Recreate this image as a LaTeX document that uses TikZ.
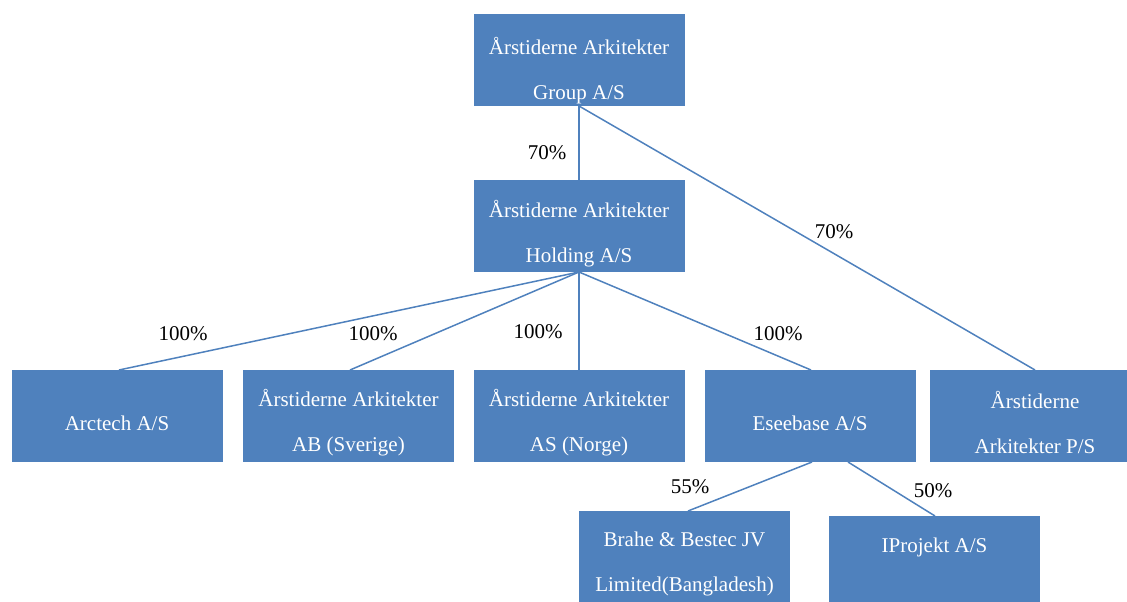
\documentclass[tikz,border=0pt]{standalone}
\usepackage{fontspec}
\setmainfont{Liberation Serif}
\definecolor{boxblue}{HTML}{4F81BD}
\begin{document}
\begin{tikzpicture}[x=1pt,y=-1pt,
  orgbox/.style={fill=boxblue,draw=none,minimum width=211pt,minimum height=92pt,anchor=north west,inner sep=0pt},
  boxtext/.style={text=white,align=center,font=\fontsize{21}{45}\selectfont,inner sep=0pt},
  pct/.style={text=black,font=\fontsize{21}{25}\selectfont,inner sep=0pt},
  link/.style={draw=boxblue,line width=1.5pt}]
\useasboundingbox (0,0) rectangle (1127,602);
\clip (0,0) rectangle (1127,602);
% boxes
\node[orgbox] (group) at (474,14) {};
\node[orgbox] (hold) at (474,180) {};
\node[orgbox] (arc) at (12,370) {};
\node[orgbox] (ab) at (243,370) {};
\node[orgbox] (as) at (474,370) {};
\node[orgbox] (ese) at (705,370) {};
\node[orgbox] (ps) at (930,370) {};
\node[orgbox] (brahe) at (579,511) {};
\node[orgbox] (ipro) at (829,516) {};
% texts
\node[boxtext] (tgroup) at (579,70.5) {Årstiderne Arkitekter\\Group A/S};
\node[boxtext] (thold) at (579,233.5) {Årstiderne Arkitekter\\Holding A/S};
\node[boxtext] (tarc) at (117,423) {Arctech A/S};
\node[boxtext] (tab) at (348.5,422.5) {Årstiderne Arkitekter\\AB (Sverige)};
\node[boxtext] (tas) at (579,422.5) {Årstiderne Arkitekter\\AS (Norge)};
\node[boxtext] (tese) at (810,423) {Eseebase A/S};
\node[boxtext] (tps) at (1035,422.5) {Årstiderne\\Arkitekter P/S};
\node[boxtext] (tbrahe) at (684.5,563.5) {Brahe \& Bestec JV\\Limited(Bangladesh)};
\node[boxtext] (tipro) at (934.5,547) {IProjekt A/S};
% connector anchor points
\coordinate (gB) at (579,106);
\coordinate (hT) at (579,180);
\coordinate (hB) at (579,272);
\coordinate (arcT) at (119,370);
\coordinate (abT) at (350,370);
\coordinate (asT) at (579,370);
\coordinate (eseT) at (811,370);
\coordinate (psT) at (1035,370);
\coordinate (eseB1) at (812,462);
\coordinate (eseB2) at (848,462);
\coordinate (braheT) at (688,511);
\coordinate (iproT) at (935,516);
% connectors
\draw[link] (gB) -- (hT);
\draw[link] (gB) -- (psT);
\draw[link] (hB) -- (arcT);
\draw[link] (hB) -- (abT);
\draw[link] (hB) -- (asT);
\draw[link] (hB) -- (eseT);
\draw[link] (eseB1) -- (braheT);
\draw[link] (eseB2) -- (iproT);
% percentages
\node[pct] (p1) at (547,153) {70\%};
\node[pct] (p2) at (834,232) {70\%};
\node[pct] (p3) at (183,334) {100\%};
\node[pct] (p4) at (373,334) {100\%};
\node[pct] (p5) at (538,332) {100\%};
\node[pct] (p6) at (778,334) {100\%};
\node[pct] (p7) at (690,487) {55\%};
\node[pct] (p8) at (933,491) {50\%};
\end{tikzpicture}
\end{document}
